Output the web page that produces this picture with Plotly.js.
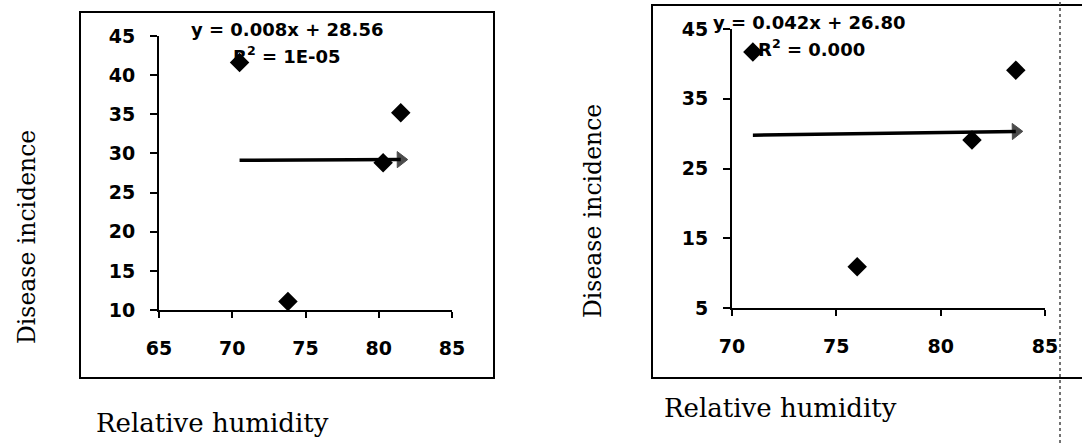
<!DOCTYPE html>
<html><head><meta charset="utf-8">
<script src="https://cdn.plot.ly/plotly-3.0.1.min.js"></script>
<style>html,body{margin:0;padding:0;background:#fff;}#chart{width:1082px;height:443px;}</style>
</head><body><div id="chart"></div>
<script>
// ---- data ----
const leftHumidity = [70.5, 73.8, 80.3, 81.5];
const leftIncidence = [41.6, 11.1, 28.8, 35.2];
const leftTrend = [0.008, 28.56]; // slope, intercept
const leftEquation = 'y = 0.008x + 28.56';
const leftR2 = 'R<sup>2</sup> = 1E-05';

const rightHumidity = [71.0, 76.0, 81.5, 83.6];
const rightIncidence = [41.7, 10.9, 29.1, 39.1];
const rightTrend = [0.042, 26.80];
const rightEquation = 'y = 0.042x + 26.80';
const rightR2 = 'R<sup>2</sup> = 0.000';

const leftXTicks = [65, 70, 75, 80, 85];
const leftYTicks = [10, 15, 20, 25, 30, 35, 40, 45];
const rightXTicks = [70, 75, 80, 85];
const rightYTicks = [5, 15, 25, 35, 45];
const xTitle = 'Relative humidity';
const yTitle = 'Disease incidence';

// ---- helpers ----
const W = 1082, H = 443;
const px = v => v / W;
const py = v => 1 - v / H;
const tickFont = {family: 'DejaVu Sans', size: 19, color: '#000', weight: 'bold'};
const eqFont = {family: 'DejaVu Sans', size: 18, color: '#000', weight: 'bold'};
const xTitleFont = {family: 'DejaVu Serif', size: 26, color: '#000'};
const yTitleFont = {family: 'DejaVu Serif', size: 23.5, color: '#000'};

function trendEnds(xs, coef) {
  const x0 = Math.min(...xs), x1 = Math.max(...xs);
  return {x: [x0, x1], y: [coef[0] * x0 + coef[1], coef[0] * x1 + coef[1]]};
}
const lt = trendEnds(leftHumidity, leftTrend);
const rt = trendEnds(rightHumidity, rightTrend);

const marker = {symbol: 'diamond', size: 15, color: '#000'};
const arrowMarker = {symbol: 'triangle-up', size: [0, 14], color: '#000', angleref: 'previous', line: {width: 1, color: '#000'}};
const traces = [
  {x: lt.x, y: lt.y, type: 'scatter', mode: 'lines+markers', line: {color: '#000', width: 3.5}, marker: arrowMarker, xaxis: 'x', yaxis: 'y', showlegend: false, cliponaxis: false},
  {x: rt.x, y: rt.y, type: 'scatter', mode: 'lines+markers', line: {color: '#000', width: 3.5}, marker: arrowMarker, xaxis: 'x2', yaxis: 'y2', showlegend: false, cliponaxis: false},
  {x: leftHumidity, y: leftIncidence, type: 'scatter', mode: 'markers', marker, xaxis: 'x', yaxis: 'y', showlegend: false, cliponaxis: false},
  {x: rightHumidity, y: rightIncidence, type: 'scatter', mode: 'markers', marker, xaxis: 'x2', yaxis: 'y2', showlegend: false, cliponaxis: false}
];

function axisBase(extra) {
  return Object.assign({
    showgrid: false, zeroline: false, showline: true, linecolor: '#000', linewidth: 2,
    ticks: 'outside', ticklen: 7, tickwidth: 2, tickcolor: '#000',
    tickfont: tickFont, tickmode: 'array', fixedrange: true
  }, extra);
}

const layout = {
  width: W, height: H,
  margin: {l: 0, r: 0, t: 0, b: 0},
  paper_bgcolor: '#fff', plot_bgcolor: 'rgba(0,0,0,0)',
  showlegend: false,
  xaxis: axisBase({domain: [px(159), px(452)], range: [65, 85], tickvals: leftXTicks, anchor: 'y', ticklabelstandoff: 14, ticklen: 6}),
  yaxis: axisBase({domain: [py(310), py(36)], range: [10, 45], tickvals: leftYTicks, anchor: 'x', ticklabelstandoff: 11}),
  xaxis2: axisBase({domain: [px(732), px(1045)], range: [70, 85], tickvals: rightXTicks, anchor: 'y2', ticklabelstandoff: 14, ticklen: 6}),
  yaxis2: axisBase({domain: [py(308), py(29)], range: [5, 45], tickvals: rightYTicks, anchor: 'x2', ticklabelstandoff: 11}),
  shapes: [
    {type: 'rect', xref: 'paper', yref: 'paper', x0: px(80), x1: px(494), y0: py(378), y1: py(12), line: {color: '#000', width: 2}},
    {type: 'rect', xref: 'paper', yref: 'paper', x0: px(652), x1: 1.02, y0: py(378), y1: py(5), line: {color: '#000', width: 2}},
    {type: 'line', xref: 'paper', yref: 'paper', x0: px(1060), x1: px(1060), y0: 0, y1: 1, line: {color: '#444', width: 1.5, dash: 'dot'}}
  ],
  annotations: [
    {xref: 'paper', yref: 'paper', x: px(287), y: py(30), text: leftEquation, showarrow: false, font: eqFont, xanchor: 'center', yanchor: 'middle'},
    {xref: 'paper', yref: 'paper', x: px(287), y: py(55), text: leftR2, showarrow: false, font: eqFont, xanchor: 'center', yanchor: 'middle'},
    {xref: 'paper', yref: 'paper', x: px(809), y: py(22), text: rightEquation, showarrow: false, font: eqFont, xanchor: 'center', yanchor: 'middle'},
    {xref: 'paper', yref: 'paper', x: px(811), y: py(48), text: rightR2, showarrow: false, font: eqFont, xanchor: 'center', yanchor: 'middle'},
    {xref: 'paper', yref: 'paper', x: px(27), y: py(237), text: yTitle, textangle: -90, showarrow: false, font: yTitleFont, xanchor: 'center', yanchor: 'middle'},
    {xref: 'paper', yref: 'paper', x: px(593), y: py(211), text: yTitle, textangle: -90, showarrow: false, font: yTitleFont, xanchor: 'center', yanchor: 'middle'},
    {xref: 'paper', yref: 'paper', x: px(212), y: py(423), text: xTitle, showarrow: false, font: xTitleFont, xanchor: 'center', yanchor: 'middle'},
    {xref: 'paper', yref: 'paper', x: px(780), y: py(408), text: xTitle, showarrow: false, font: xTitleFont, xanchor: 'center', yanchor: 'middle'}
  ]
};

Plotly.newPlot('chart', traces, layout, {displayModeBar: false, staticPlot: true});
</script>
</body></html>
